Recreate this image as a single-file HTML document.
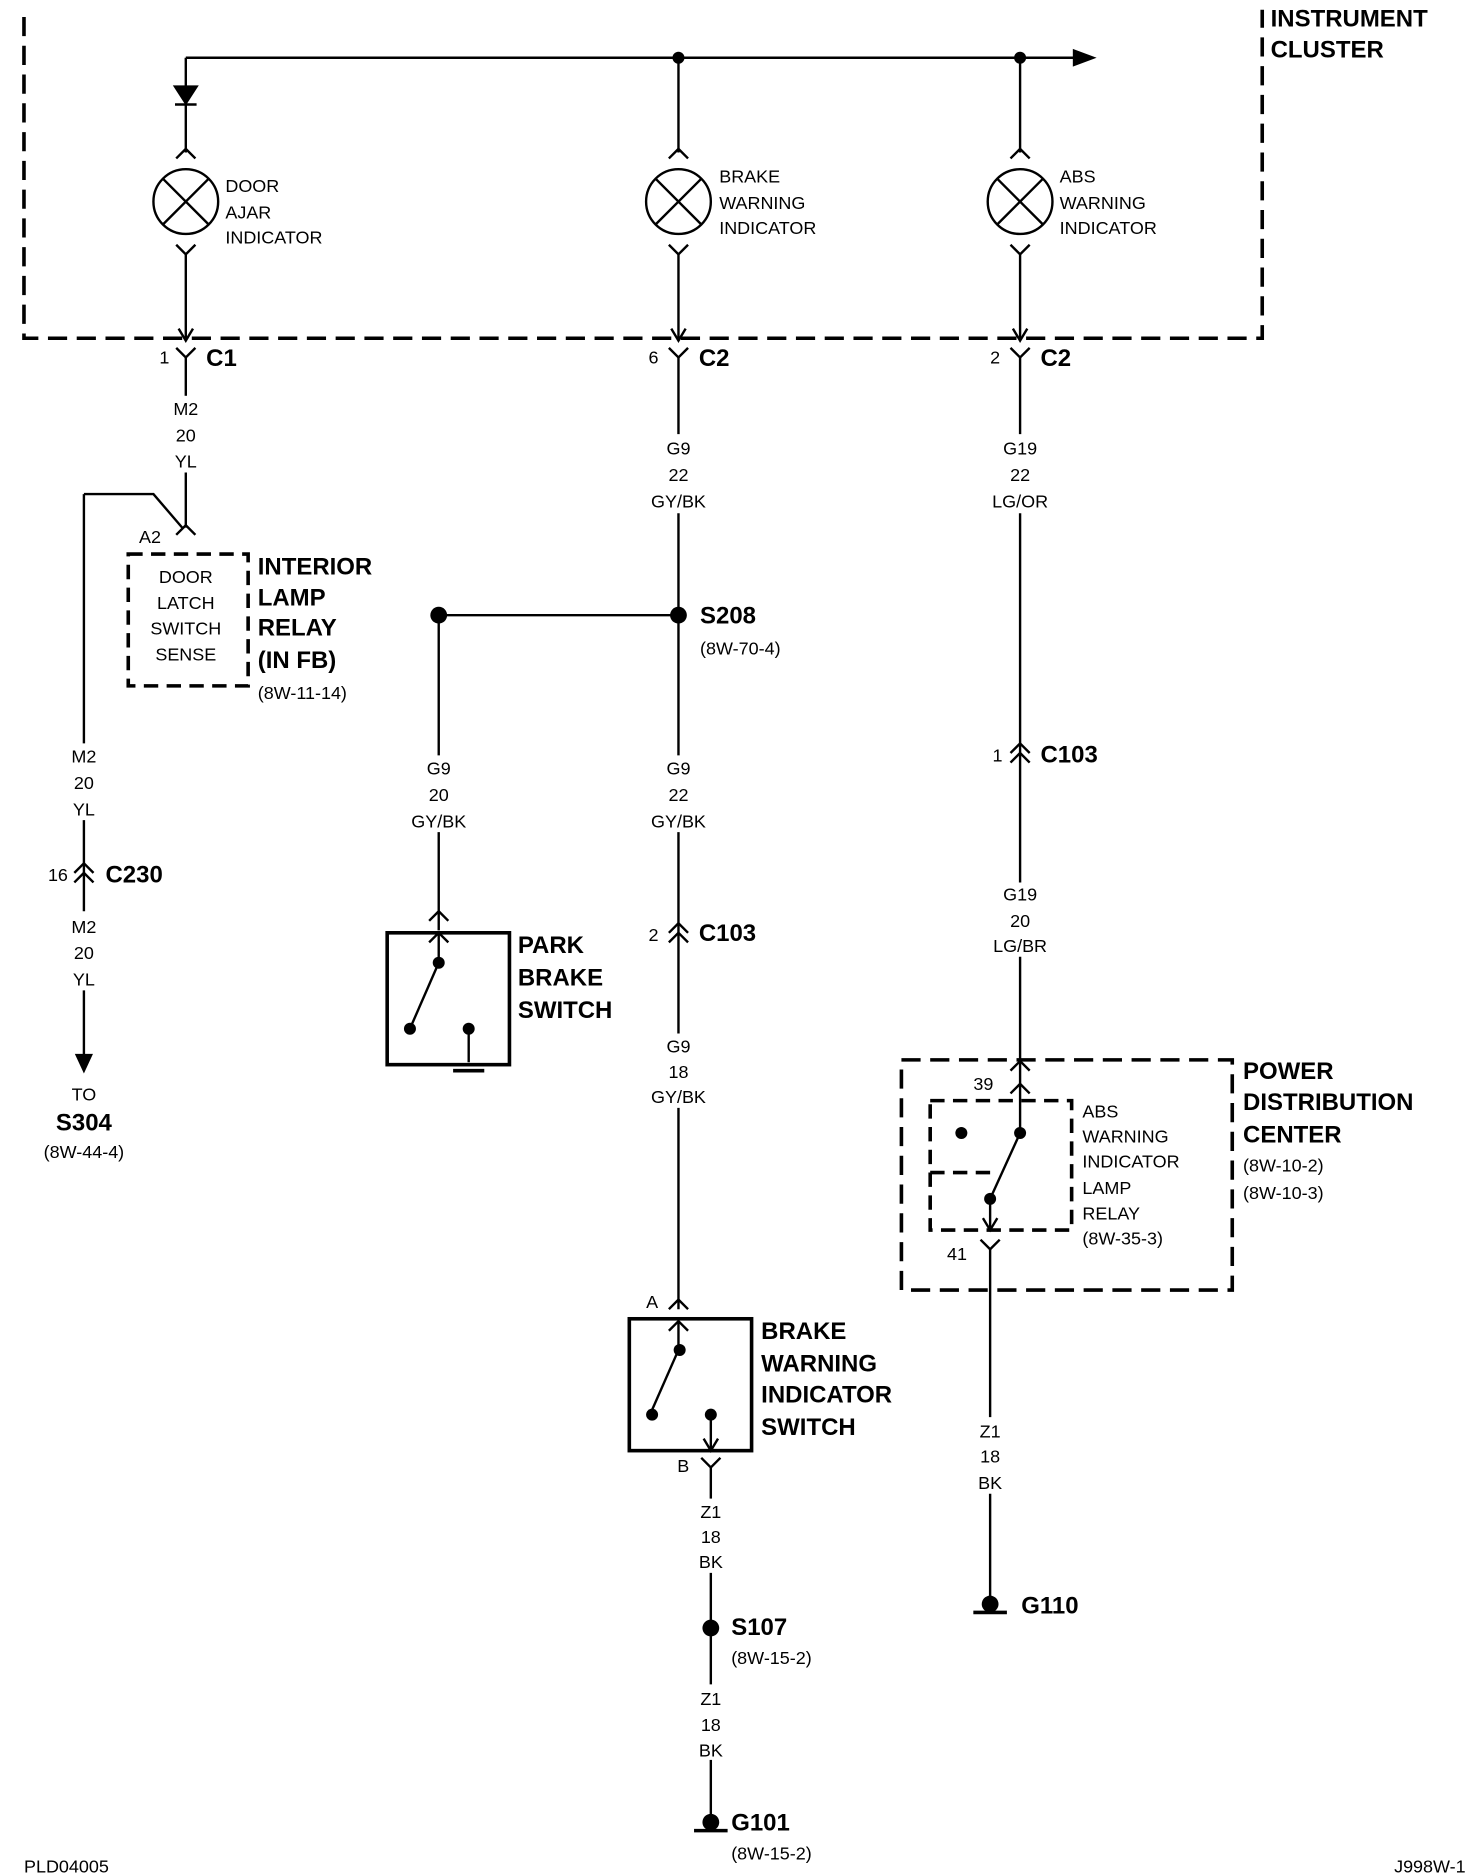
<!DOCTYPE html>
<html><head><meta charset="utf-8"><style>
html,body{margin:0;padding:0;background:#fff;}
svg{display:block;}
text{font-family:"Liberation Sans",sans-serif;fill:#000;}
.s{font-size:15px;}
.b{font-size:20px;font-weight:bold;}
</style></head><body>
<svg width="1472" height="1874" viewBox="0 0 1228 1563" xmlns="http://www.w3.org/2000/svg">
<g stroke="#000" stroke-width="2" fill="none">
<!-- instrument cluster dashed box -->
<path d="M20 14 V282 H1053 V8" stroke-dasharray="16,8" stroke-width="3"/>
<!-- top bus -->
<line x1="155" y1="48" x2="900" y2="48"/>
<path d="M896 42 L912 48 L896 54 Z" fill="#000"/>
<!-- door ajar column -->
<line x1="155" y1="48" x2="155" y2="127"/>
<path d="M146 72 L164 72 L155 86 Z" fill="#000"/><line x1="146" y1="87" x2="164" y2="87"/>
<path d="M147 132 L155 124 L163 132"/>
<circle cx="155" cy="168" r="27"/><path d="M136 149 L174 187 M174 149 L136 187"/>
<path d="M147 204 L155 212 L163 204"/>
<line x1="155" y1="212" x2="155" y2="282"/><path d="M149 274 L155 284 L161 274"/>
<path d="M147 290 L155 298 L163 290"/><line x1="155" y1="298" x2="155" y2="330"/>
<line x1="155" y1="394" x2="155" y2="440"/>
<path d="M70 412 H128 L152 440"/><path d="M147 446 L155 438 L163 446"/>
<rect x="107" y="462" width="100" height="110" stroke-dasharray="12,7" stroke-width="3"/>
<line x1="70" y1="412" x2="70" y2="620"/>
<line x1="70" y1="684" x2="70" y2="760"/>
<path d="M62 728 L70 720 L78 728 M62 736 L70 728 L78 736"/>
<line x1="70" y1="826" x2="70" y2="885"/>
<path d="M64 880 L70 893 L76 880 Z" fill="#000"/>
<!-- brake column -->
<line x1="566" y1="48" x2="566" y2="127"/>
<path d="M558 132 L566 124 L574 132"/>
<circle cx="566" cy="168" r="27"/><path d="M547 149 L585 187 M585 149 L547 187"/>
<path d="M558 204 L566 212 L574 204"/>
<line x1="566" y1="212" x2="566" y2="282"/><path d="M560 274 L566 284 L572 274"/>
<path d="M558 290 L566 298 L574 290"/><line x1="566" y1="298" x2="566" y2="362"/>
<line x1="566" y1="428" x2="566" y2="630"/>
<line x1="366" y1="513" x2="566" y2="513"/>
<line x1="566" y1="694" x2="566" y2="862"/>
<path d="M558 778 L566 770 L574 778 M558 786 L566 778 L574 786"/>
<line x1="566" y1="924" x2="566" y2="1092"/>
<path d="M558 1092 L566 1084 L574 1092"/>
<rect x="525" y="1100" width="102" height="110" stroke-width="3"/>
<path d="M558 1110 L566 1102 L574 1110"/><line x1="566" y1="1102" x2="566" y2="1126"/>
<line x1="566" y1="1126" x2="544" y2="1176"/>
<line x1="593" y1="1180" x2="593" y2="1208"/><path d="M587 1200 L593 1210 L599 1200"/>
<path d="M585 1216 L593 1224 L601 1216"/><line x1="593" y1="1224" x2="593" y2="1250"/>
<line x1="593" y1="1312" x2="593" y2="1405"/>
<line x1="593" y1="1468" x2="593" y2="1520"/>
<line x1="579" y1="1527" x2="607" y2="1527" stroke-width="3"/>
<!-- park brake -->
<line x1="366" y1="513" x2="366" y2="630"/>
<line x1="366" y1="694" x2="366" y2="776"/>
<path d="M358 768 L366 760 L374 768"/>
<rect x="323" y="778" width="102" height="110" stroke-width="3"/>
<path d="M358 786 L366 778 L374 786"/><line x1="366" y1="778" x2="366" y2="802"/>
<line x1="366" y1="803" x2="342" y2="858"/>
<line x1="391" y1="858" x2="391" y2="886"/>
<line x1="378" y1="893" x2="404" y2="893" stroke-width="3"/>
<!-- abs column -->
<line x1="851" y1="48" x2="851" y2="127"/>
<path d="M843 132 L851 124 L859 132"/>
<circle cx="851" cy="168" r="27"/><path d="M832 149 L870 187 M870 149 L832 187"/>
<path d="M843 204 L851 212 L859 204"/>
<line x1="851" y1="212" x2="851" y2="282"/><path d="M845 274 L851 284 L857 274"/>
<path d="M843 290 L851 298 L859 290"/><line x1="851" y1="298" x2="851" y2="362"/>
<line x1="851" y1="428" x2="851" y2="736"/>
<path d="M843 628 L851 620 L859 628 M843 636 L851 628 L859 636"/>
<line x1="851" y1="798" x2="851" y2="945"/>
<path d="M843 893 L851 885 L859 893"/>
<rect x="752" y="884" width="276" height="192" stroke-dasharray="16,8" stroke-width="3"/>
<path d="M843 912 L851 904 L859 912"/>
<path d="M776 918 H894 V1026 H776 Z" stroke-dasharray="12,7" stroke-width="3"/>
<line x1="851" y1="945" x2="826" y2="1000"/>
<path d="M776 978 H826" stroke-dasharray="12,7" stroke-width="3"/>
<line x1="826" y1="1000" x2="826" y2="1024"/><path d="M820 1016 L826 1026 L832 1016"/>
<path d="M818 1034 L826 1042 L834 1034"/>
<line x1="826" y1="1042" x2="826" y2="1182"/>
<line x1="826" y1="1246" x2="826" y2="1336"/>
<line x1="812" y1="1345" x2="840" y2="1345" stroke-width="3"/>
</g>
<g fill="#000">
<circle cx="566" cy="48" r="5"/><circle cx="851" cy="48" r="5"/>
<circle cx="566" cy="513" r="7"/><circle cx="366" cy="513" r="7"/>
<circle cx="366" cy="803" r="5"/><circle cx="342" cy="858" r="5"/><circle cx="391" cy="858" r="5"/>
<circle cx="567" cy="1126" r="5"/><circle cx="544" cy="1180" r="5"/><circle cx="593" cy="1180" r="5"/>
<circle cx="593" cy="1358" r="7"/><circle cx="593" cy="1520" r="7"/><circle cx="826" cy="1338" r="7"/>
<circle cx="851" cy="945" r="5"/><circle cx="802" cy="945" r="5"/><circle cx="826" cy="1000" r="5"/>
</g>
<text class="b" x="1060" y="22">INSTRUMENT</text>
<text class="b" x="1060" y="48">CLUSTER</text>
<g class="s">
<text x="188" y="160">DOOR</text><text x="188" y="182">AJAR</text><text x="188" y="203">INDICATOR</text>
<text x="600" y="152">BRAKE</text><text x="600" y="174">WARNING</text><text x="600" y="195">INDICATOR</text>
<text x="884" y="152">ABS</text><text x="884" y="174">WARNING</text><text x="884" y="195">INDICATOR</text>
<text x="133" y="303">1</text><text x="541" y="303">6</text><text x="826" y="303">2</text>
</g>
<text class="b" x="172" y="305">C1</text><text class="b" x="583" y="305">C2</text><text class="b" x="868" y="305">C2</text>
<g class="s" text-anchor="middle">
<text x="155" y="346">M2</text><text x="155" y="368">20</text><text x="155" y="390">YL</text>
<text x="155" y="486">DOOR</text><text x="155" y="508">LATCH</text><text x="155" y="529">SWITCH</text><text x="155" y="551">SENSE</text>
<text x="70" y="636">M2</text><text x="70" y="658">20</text><text x="70" y="680">YL</text>
<text x="70" y="778">M2</text><text x="70" y="800">20</text><text x="70" y="822">YL</text>
<text x="70" y="918">TO</text><text x="70" y="966">(8W-44-4)</text>
<text x="566" y="379">G9</text><text x="566" y="401">22</text><text x="566" y="423">GY/BK</text>
<text x="366" y="646">G9</text><text x="366" y="668">20</text><text x="366" y="690">GY/BK</text>
<text x="566" y="646">G9</text><text x="566" y="668">22</text><text x="566" y="690">GY/BK</text>
<text x="566" y="878">G9</text><text x="566" y="899">18</text><text x="566" y="920">GY/BK</text>
<text x="593" y="1266">Z1</text><text x="593" y="1287">18</text><text x="593" y="1308">BK</text>
<text x="593" y="1422">Z1</text><text x="593" y="1444">18</text><text x="593" y="1465">BK</text>
<text x="851" y="379">G19</text><text x="851" y="401">22</text><text x="851" y="423">LG/OR</text>
<text x="851" y="751">G19</text><text x="851" y="773">20</text><text x="851" y="794">LG/BR</text>
<text x="826" y="1199">Z1</text><text x="826" y="1220">18</text><text x="826" y="1242">BK</text>
</g>
<text class="b" x="70" y="943" text-anchor="middle">S304</text>
<g class="s">
<text x="116" y="453">A2</text>
<text x="215" y="583">(8W-11-14)</text>
<text x="40" y="735">16</text>
<text x="584" y="546">(8W-70-4)</text>
<text x="541" y="785">2</text>
<text x="539" y="1091">A</text><text x="565" y="1228">B</text>
<text x="610" y="1388">(8W-15-2)</text>
<text x="610" y="1551">(8W-15-2)</text>
<text x="828" y="635">1</text>
<text x="812" y="909">39</text><text x="790" y="1051">41</text>
<text x="903" y="932">ABS</text><text x="903" y="953">WARNING</text><text x="903" y="974">INDICATOR</text><text x="903" y="996">LAMP</text><text x="903" y="1017">RELAY</text><text x="903" y="1038">(8W-35-3)</text>
<text x="1037" y="977">(8W-10-2)</text><text x="1037" y="1000">(8W-10-3)</text>
<text x="20" y="1562">PLD04005</text><text x="1163" y="1562">J998W-1</text>
</g>
<g class="b">
<text x="215" y="479">INTERIOR</text><text x="215" y="505">LAMP</text><text x="215" y="530">RELAY</text><text x="215" y="557">(IN FB)</text>
<text x="88" y="736">C230</text>
<text x="584" y="520">S208</text>
<text x="432" y="795">PARK</text><text x="432" y="822">BRAKE</text><text x="432" y="849">SWITCH</text>
<text x="583" y="785">C103</text>
<text x="635" y="1117">BRAKE</text><text x="635" y="1144">WARNING</text><text x="635" y="1170">INDICATOR</text><text x="635" y="1197">SWITCH</text>
<text x="610" y="1364">S107</text>
<text x="610" y="1527">G101</text>
<text x="868" y="636">C103</text>
<text x="1037" y="900">POWER</text><text x="1037" y="926">DISTRIBUTION</text><text x="1037" y="953">CENTER</text>
<text x="852" y="1346">G110</text>
</g>
</svg>
</body></html>
